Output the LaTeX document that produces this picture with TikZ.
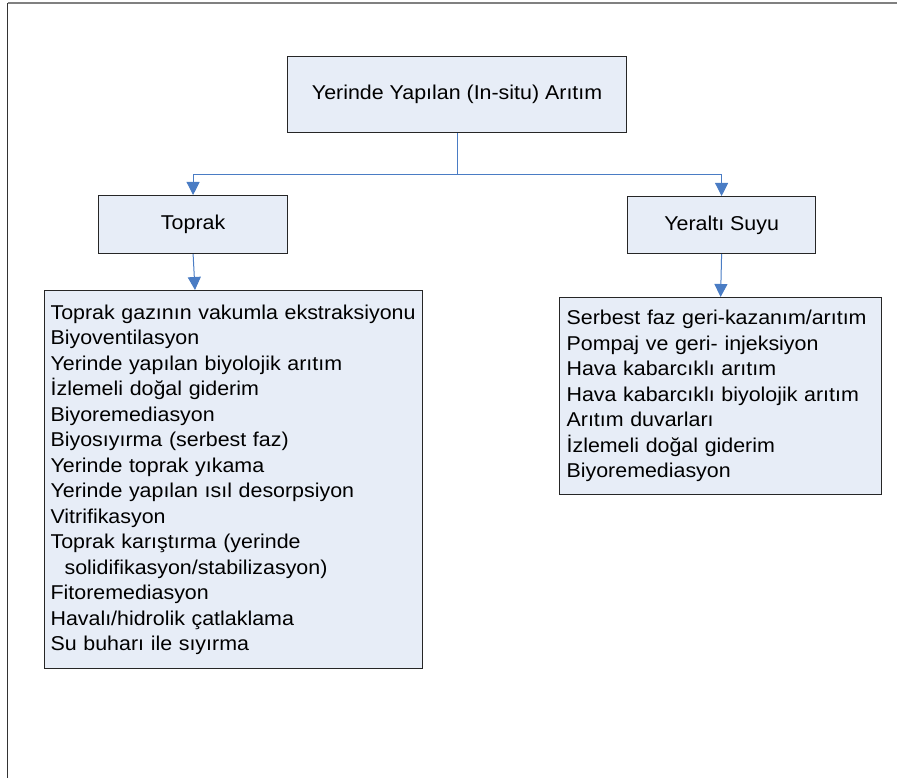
\documentclass[tikz,border=0pt]{standalone}
\usepackage{fontspec}
\setmainfont[FakeStretch=1.07]{Liberation Sans}
\usetikzlibrary{arrows.meta,calc}
\definecolor{boxfill}{HTML}{E7EDF7}
\definecolor{conn}{HTML}{4A7CC4}
\tikzset{
  box/.style={draw=black!85,line width=1.2pt,fill=boxfill,inner sep=0pt,
    font={\fontsize{20pt}{25.5pt}\selectfont}},
  listbox/.style={box,anchor=north west,align=left,inner xsep=6pt,inner ysep=0pt},
  conline/.style={draw=conn,line width=1pt},
  conarrow/.style={conline,-{Triangle[width=13pt,length=13pt]}}
}
\begin{document}
\begin{tikzpicture}[x=1pt,y=-1pt]
\useasboundingbox (0,0) rectangle (897,778);
\draw[draw=black!80,line width=1.3pt] (7.5,778) -- (7.5,3);
\draw[draw=black!50,line width=1.3pt] (7.5,3) -- (897,3);
\node[box,minimum width=339pt,minimum height=76pt,anchor=north west] (top) at (287,56) {Yerinde Yapılan (In-situ) Arıtım};
\node[box,minimum width=189pt,minimum height=58pt,anchor=north west] (toprak) at (98,195) {Toprak};
\node[box,minimum width=188pt,minimum height=57pt,anchor=north west] (yas) at (627,196) {Yeraltı Suyu};
\node[listbox,text width=366pt,minimum width=378pt,minimum height=378pt] (llist) at (44,290) {Toprak gazının vakumla ekstraksiyonu\\
Biyoventilasyon\\
Yerinde yapılan biyolojik arıtım\\
İzlemeli doğal giderim\\
Biyoremediasyon\\
Biyosıyırma (serbest faz)\\
Yerinde toprak yıkama\\
Yerinde yapılan ısıl desorpsiyon\\
Vitrifikasyon\\
Toprak karıştırma (yerinde\\
\hspace*{14pt}solidifikasyon/stabilizasyon)\\
Fitoremediasyon\\
Havalı/hidrolik çatlaklama\\
Su buharı ile sıyırma};
\node[listbox,inner xsep=7pt,text width=308pt,minimum width=322pt,minimum height=197pt] (rlist) at (559,297) {Serbest faz geri-kazanım/arıtım\\
Pompaj ve geri- injeksiyon\\
Hava kabarcıklı arıtım\\
Hava kabarcıklı biyolojik arıtım\\
Arıtım duvarları\\
İzlemeli doğal giderim\\
Biyoremediasyon};
\coordinate (j) at ($(top.south)+(0,41)$);
\coordinate (lt) at ($(llist.north west)+(151,0)$);
\draw[conline] (top.south) -- (j);
\draw[conarrow] (j) -| (toprak.north);
\draw[conarrow] (j) -| (yas.north);
\draw[conarrow] (toprak.south) -- (lt);
\draw[conarrow] (yas.south) -- (rlist.north);
\end{tikzpicture}
\end{document}
